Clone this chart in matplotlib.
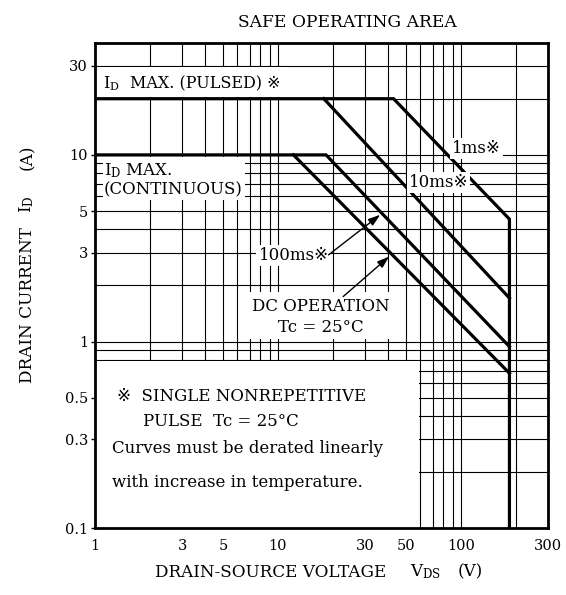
import matplotlib
matplotlib.use("Agg")
import matplotlib.pyplot as plt
from matplotlib.patches import Rectangle
from matplotlib.ticker import FixedLocator, FixedFormatter, LogLocator, NullFormatter

plt.rcParams['font.family'] = ['DejaVu Serif', 'DejaVu Sans', 'Noto Sans CJK JP']
plt.rcParams['mathtext.fontset'] = 'dejavuserif'

# ---------------- data ----------------
x_ticks = [1, 3, 5, 10, 30, 50, 100, 300]
x_tick_labels = ['1', '3', '5', '10', '30', '50', '100', '300']
y_ticks = [0.1, 0.3, 0.5, 1, 3, 5, 10, 30]
y_tick_labels = ['0.1', '0.3', '0.5', '1', '3', '5', '10', '30']

# pulsed limit + 1 ms line + voltage limit
ms1_v = [1, 42.8, 184, 184]
ms1_i = [20, 20, 4.53, 0.1]
# 10 ms
ms10_v = [17.8, 184]
ms10_i = [20, 1.71]
# continuous limit + 100 ms
ms100_v = [1, 18.3, 184]
ms100_i = [10, 10, 0.94]
# DC operation
dc_v = [12.15, 184]
dc_i = [10, 0.677]

W, H = 566, 595
fig = plt.figure(figsize=(W / 100, H / 100), dpi=100)
L, R, T, B = 95, 548.3, 42.5, 528.3
ax = fig.add_axes([L / W, 1 - B / H, (R - L) / W, (B - T) / H])
ax.set_xscale('log')
ax.set_yscale('log')
ax.set_xlim(1, 300)
ax.set_ylim(0.1, 40)

ax.xaxis.set_major_locator(FixedLocator(x_ticks))
ax.xaxis.set_major_formatter(FixedFormatter(x_tick_labels))
ax.yaxis.set_major_locator(FixedLocator(y_ticks))
ax.yaxis.set_major_formatter(FixedFormatter(y_tick_labels))
for a in (ax.xaxis, ax.yaxis):
    a.set_minor_locator(LogLocator(base=10, subs=range(1, 10)))
    a.set_minor_formatter(NullFormatter())
ax.tick_params(which='minor', length=0)
ax.tick_params(axis='x', which='major', length=0, pad=8, labelsize=10.5)
ax.tick_params(axis='y', which='major', length=3, width=1, pad=2, labelsize=10.5)
ax.grid(which='both', color='black', lw=0.8)
for s in ax.spines.values():
    s.set_linewidth(2)

# white areas that hide the grid behind labels
def box(v0, v1, i0, i1):
    ax.add_patch(Rectangle((v0, i0), v1 - v0, i1 - i0, facecolor='white',
                           edgecolor='none', zorder=2))

box(1.0, 59.3, 0.1, 0.79)       # footnote area
box(1.0, 11.3, 20.4, 29.5)      # pulsed label
box(1.1, 6.6, 5.7, 9.8)         # continuous label
box(6.8, 42, 1.03, 1.85)        # DC operation label

lw = 2.3
for v, i in ((ms1_v, ms1_i), (ms10_v, ms10_i), (ms100_v, ms100_i), (dc_v, dc_i)):
    ax.plot(v, i, color='black', lw=lw, zorder=4, solid_joinstyle='miter')

fs = 12
wb = dict(facecolor='white', edgecolor='none', pad=1.5)
ax.text(1.106, 22.8, r'I$_\mathrm{D}$', fontsize=11.5, va='baseline', ha='left', zorder=5)
ax.text(1.554, 22.8, 'MAX. (PULSED) ※', fontsize=11.5, va='baseline', ha='left', zorder=5)
ax.text(1.12, 7.82, r'I$_\mathrm{D}$ MAX.', fontsize=fs, va='baseline', ha='left', zorder=5)
ax.text(1.12, 6.11, '(CONTINUOUS)', fontsize=fs, va='baseline', ha='left', zorder=5)
ax.text(89.3, 10.2, '1ms※', fontsize=fs, va='baseline', ha='left', zorder=5, bbox=wb)
ax.text(51.7, 6.77, '10ms※', fontsize=fs, va='baseline', ha='left', zorder=5, bbox=wb)
ax.text(7.82, 2.72, '100ms※', fontsize=fs, va='baseline', ha='left', zorder=5, bbox=wb)
ax.text(17.2, 1.46, 'DC OPERATION', fontsize=fs, va='baseline', ha='center', zorder=5)
ax.text(17.2, 1.13, 'Tc = 25°C', fontsize=fs, va='baseline', ha='center', zorder=5)

ap = dict(arrowstyle='-|>,head_length=0.6,head_width=0.2', color='black', lw=1,
          mutation_scale=12, shrinkA=0, shrinkB=0)
ax.annotate('', xy=(36.2, 4.78), xytext=(18.9, 2.915), arrowprops=ap, zorder=5)
ax.annotate('', xy=(40.5, 2.855), xytext=(22.7, 1.742), arrowprops=ap, zorder=5)

ax.text(1.32, 0.483, '※  SINGLE NONREPETITIVE', fontsize=fs, va='baseline', ha='left', zorder=5)
ax.text(1.83, 0.355, 'PULSE  Tc = 25°C', fontsize=fs, va='baseline', ha='left', zorder=5)
ax.text(1.24, 0.253, 'Curves must be derated linearly', fontsize=fs, va='baseline', ha='left', zorder=5)
ax.text(1.24, 0.167, 'with increase in temperature.', fontsize=fs, va='baseline', ha='left', zorder=5)

def ft(x, y, s, **kw):
    fig.text(x / W, 1 - y / H, s, **kw)

ft(347.5, 27.3, 'SAFE OPERATING AREA', fontsize=12.3, ha='center', va='baseline')
ft(155, 576.7, 'DRAIN-SOURCE VOLTAGE', fontsize=12.1, ha='left', va='baseline')
ft(410, 576.7, r'V$_\mathrm{DS}$', fontsize=12.1, ha='left', va='baseline')
ft(458, 576.7, '(V)', fontsize=12.1, ha='left', va='baseline')
for y, s in ((383, 'DRAIN CURRENT'), (213, r'I$_\mathrm{D}$'), (170, '(A)')):
    ft(31.7, y, s, fontsize=12.2, ha='left', va='baseline', rotation=90,
       rotation_mode='anchor')

fig.savefig('out.png', dpi=100)
